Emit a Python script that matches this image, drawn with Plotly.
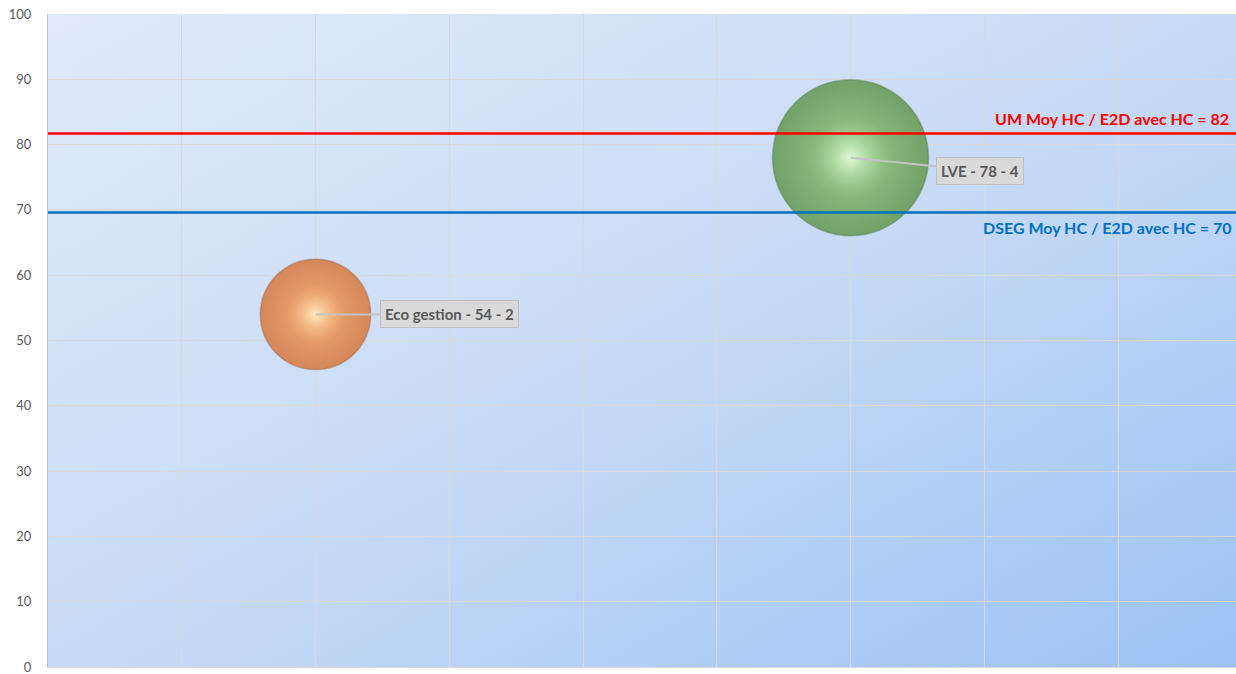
import base64
import plotly.graph_objects as go

# ---- data ----
names = ["Eco gestion", "LVE"]
x_vals = [2, 6]
y_vals = [54, 78]
sizes = [2, 4]
labels = ["Eco gestion - 54 - 2", "LVE - 78 - 4"]
body_colors = ["#f4ac74", "#98cc8a"]
rim_colors = ["#d4875a", "#72a169"]
edge_line_colors = ["rgba(160,95,55,0.45)", "rgba(85,125,80,0.45)"]
highlight_colors = ["rgba(255,240,195,0.95)", "rgba(228,252,218,0.95)"]
highlight_fade = ["rgba(244,172,116,0)", "rgba(152,204,138,0)"]

ref_lines = [81.7, 69.6]
ref_labels = ["UM Moy HC / E2D avec HC = 82", "DSEG Moy HC / E2D avec HC = 70"]
ref_colors = ["#ff0000", "#0070c0"]

y_ticks = list(range(0, 101, 10))
x_ticks = list(range(0, 10))

# ---- background gradient (svg) ----
svg = (
    '<svg xmlns="http://www.w3.org/2000/svg" width="100" height="100" '
    'preserveAspectRatio="none" viewBox="0 0 100 100">'
    '<defs><linearGradient id="g" x1="0" y1="0" x2="1" y2="1">'
    '<stop offset="0" stop-color="#e0eafa"/>'
    '<stop offset="0.5" stop-color="#c8dbf6"/>'
    '<stop offset="1" stop-color="#9cc2f5"/>'
    '</linearGradient></defs>'
    '<rect width="100" height="100" fill="url(#g)"/></svg>'
)
svg_uri = "data:image/svg+xml;base64," + base64.b64encode(svg.encode()).decode()

SIZEREF = 8 / 156 ** 2

fig = go.Figure()

for i in range(len(names)):
    fig.add_trace(go.Scatter(
        x=[x_vals[i]], y=[y_vals[i]], mode="markers", name=names[i],
        opacity=1,
        marker=dict(
            size=[sizes[i]], sizemode="area", sizeref=SIZEREF,
            color=rim_colors[i],
            gradient=dict(type="radial", color=body_colors[i]),
            line=dict(width=1.5, color=edge_line_colors[i]), opacity=1,
        ),
        hoverinfo="skip", showlegend=False,
    ))
    fig.add_trace(go.Scatter(
        x=[x_vals[i]], y=[y_vals[i]], mode="markers", name=names[i] + " hl",
        opacity=1,
        marker=dict(
            size=[sizes[i] * 0.3], sizemode="area", sizeref=SIZEREF,
            color=highlight_fade[i],
            gradient=dict(type="radial", color=highlight_colors[i]),
            line=dict(width=0), opacity=1,
        ),
        hoverinfo="skip", showlegend=False,
    ))

x_max = 1188 / 133.75

for yv, col in zip(ref_lines, ref_colors):
    fig.add_shape(type="line", xref="paper", x0=0, x1=1, yref="y", y0=yv, y1=yv,
                  line=dict(color=col, width=2.5))

fig.add_annotation(xref="paper", x=0.9955, yref="y", y=ref_lines[0], yshift=15,
                   text="<b>" + ref_labels[0] + "</b>", showarrow=False,
                   xanchor="right", font=dict(family="Lato", size=16, color=ref_colors[0]))
fig.add_annotation(xref="paper", x=0.998, yref="y", y=ref_lines[1], yshift=-15,
                   text="<b>" + ref_labels[1] + "</b>", showarrow=False,
                   xanchor="right", font=dict(family="Lato", size=16, color=ref_colors[1]))

offsets = [(134, 0), (129, 13)]
for i in range(len(names)):
    fig.add_annotation(
        x=x_vals[i], y=y_vals[i], ax=offsets[i][0], ay=offsets[i][1],
        text="<b>" + labels[i] + "</b>", showarrow=True, arrowhead=0,
        arrowwidth=2, arrowcolor="#c4c4c4", standoff=0,
        bgcolor="#d9d9d9", bordercolor="#bfbfbf", borderwidth=1, borderpad=4,
        font=dict(family="Lato", size=15, color="#595959"),
    )

fig.add_layout_image(dict(
    source=svg_uri, xref="paper", yref="paper", x=0, y=1, sizex=1, sizey=1,
    sizing="stretch", xanchor="left", yanchor="top", layer="below",
))

fig.update_xaxes(range=[0, x_max], tickvals=x_ticks, showticklabels=False,
                 showgrid=True, gridcolor="#d9d9d9", gridwidth=1,
                 zeroline=False, showline=True, linecolor="#d9d9d9", linewidth=1,
                 ticks="")
fig.update_yaxes(range=[0, 100], tickvals=y_ticks, showgrid=True,
                 gridcolor="#d9d9d9", gridwidth=1, zeroline=False,
                 showline=True, linecolor="#bfbfbf", linewidth=1, ticks="",
                 ticklabelstandoff=13, ticklabeloverflow="allow",
                 tickfont=dict(family="Lato", size=13, color="#595959"))

fig.update_layout(
    width=1236, height=674,
    margin=dict(l=48, r=0, t=14, b=7),
    plot_bgcolor="rgba(0,0,0,0)", paper_bgcolor="white",
    showlegend=False,
)

fig.write_html(
    "out.html",
    config={"displayModeBar": False},
    post_script="document.body.style.margin='0';document.body.style.overflow='hidden';",
)
